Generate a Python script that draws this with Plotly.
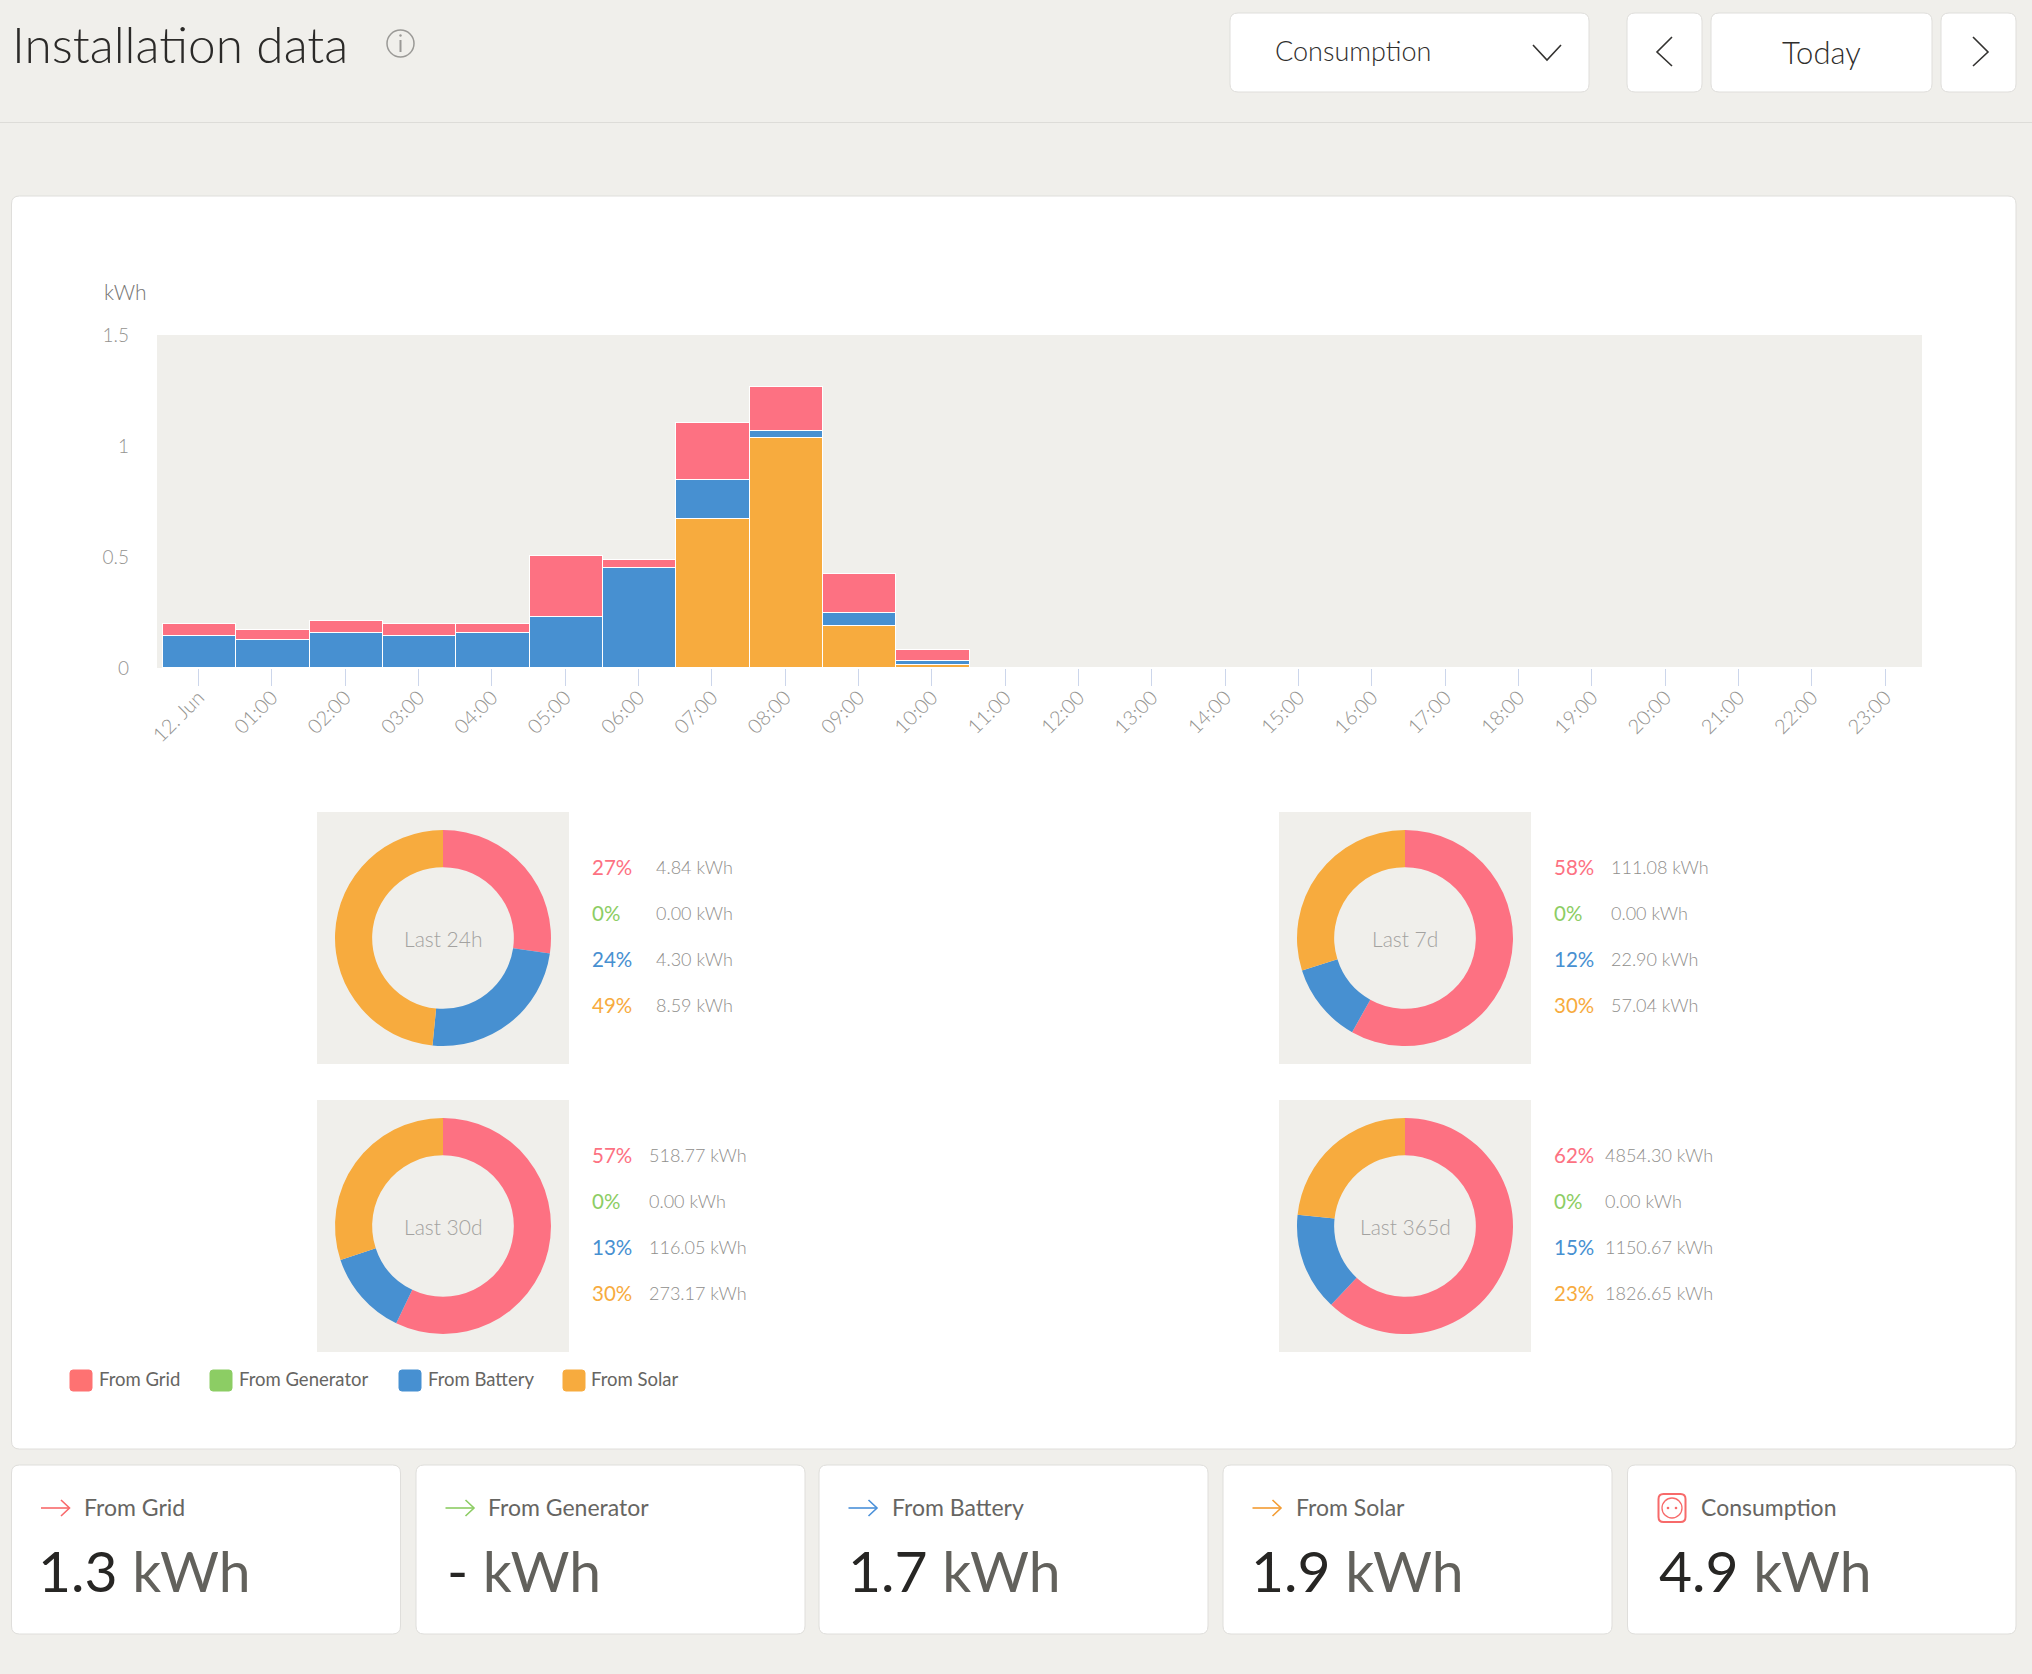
import plotly.graph_objects as go

W, H = 2032, 1674

hours = ["12. Jun"] + [f"{h:02d}:00" for h in range(1, 24)]
from_solar = [0, 0, 0, 0, 0, 0, 0, 0.670, 1.035, 0.191, 0.0135] + [0] * 13
from_battery = [0.143, 0.126, 0.158, 0.143, 0.159, 0.231, 0.452, 0.177, 0.033, 0.057, 0.0165] + [0] * 13
from_generator = [0] * 24
from_grid = [0.054, 0.045, 0.054, 0.054, 0.038, 0.272, 0.036, 0.257, 0.198, 0.174, 0.051] + [0] * 13

source_names = ["From Grid", "From Generator", "From Battery", "From Solar"]
period_names = ["Last 24h", "Last 7d", "Last 30d", "Last 365d"]
period_grid = [4.84, 111.08, 518.77, 4854.30]
period_generator = [0.00, 0.00, 0.00, 0.00]
period_battery = [4.30, 22.90, 116.05, 1150.67]
period_solar = [8.59, 57.04, 273.17, 1826.65]
period_percents = [[27, 0, 24, 49], [58, 0, 12, 30], [57, 0, 13, 30], [62, 0, 15, 23]]

card_labels = ["From Grid", "From Generator", "From Battery", "From Solar", "Consumption"]
card_values = ["1.3", "-", "1.7", "1.9", "4.9"]

PINK, GREEN, BLUE, ORANGE = "#fd7182", "#8ccd64", "#4790d1", "#f7ab3e"
SOURCE_COLORS = [PINK, GREEN, BLUE, ORANGE]
PAGE = "#f0efeb"
EDGE = "#dfdedb"
FONT = "Lato"


def fx(x):
    return x / W


def fy(y):
    return 1 - y / H


def rounded(x0, y0, x1, y1, r=8, fill="#ffffff", line=EDGE, width=1):
    X0, X1, Y0, Y1 = fx(x0), fx(x1), fy(y0), fy(y1)
    rx, ry = r / W, r / H
    path = (
        f"M{X0 + rx},{Y0} L{X1 - rx},{Y0} Q{X1},{Y0} {X1},{Y0 - ry} "
        f"L{X1},{Y1 + ry} Q{X1},{Y1} {X1 - rx},{Y1} L{X0 + rx},{Y1} "
        f"Q{X0},{Y1} {X0},{Y1 + ry} L{X0},{Y0 - ry} Q{X0},{Y0} {X0 + rx},{Y0} Z"
    )
    return dict(type="path", xref="paper", yref="paper", path=path, fillcolor=fill,
                line=dict(color=line, width=width), layer="below")


def polyline(points, color, width=2):
    path = "M" + " L".join(f"{fx(x)},{fy(y)}" for x, y in points)
    return dict(type="path", xref="paper", yref="paper", path=path,
                line=dict(color=color, width=width), layer="above")


def circle(cx, cy, r, line=None, fill="rgba(0,0,0,0)", width=2):
    return dict(type="circle", xref="paper", yref="paper",
                x0=fx(cx - r), x1=fx(cx + r), y0=fy(cy - r), y1=fy(cy + r),
                fillcolor=fill, line=dict(color=line or fill, width=width), layer="above")


def flat_rect(x0, y0, x1, y1, fill=PAGE):
    return dict(type="rect", xref="paper", yref="paper", x0=fx(x0), x1=fx(x1),
                y0=fy(y0), y1=fy(y1), fillcolor=fill, line=dict(width=0), layer="below")


def label(x, y, text, size, color, anchor="left", weight=300):
    return dict(xref="paper", yref="paper", x=fx(x), y=fy(y), text=text, showarrow=False,
                xanchor=anchor, yanchor="middle", borderpad=0,
                font=dict(family=FONT, size=size, color=color, weight=weight))


shapes, notes = [], []

# Page header
shapes.append(polyline([(0, 122.5), (W, 122.5)], "#dddcd8", 1))
notes.append(label(11, 43.5, "Installation data", 49.5, "#2b2a28"))
shapes.append(circle(400.5, 43.5, 13.5, line="#9a9996", width=1.5))
shapes.append(polyline([(400.5, 40), (400.5, 52)], "#9a9996", 2))
shapes.append(circle(400.5, 35.5, 1.2, fill="#9a9996", width=0))
for box in [(1230, 13, 1589, 92), (1627, 13, 1702, 92), (1711, 13, 1932, 92), (1941, 13, 2016, 92)]:
    shapes.append(rounded(*box))
notes.append(label(1274, 50.5, "Consumption", 27, "#2f2e2c"))
notes.append(label(1821, 52, "Today", 31, "#2f2e2c", anchor="center"))
shapes.append(polyline([(1533, 45), (1547, 60), (1561, 45)], "#333230", 1.6))
shapes.append(polyline([(1672, 37), (1657, 52), (1672, 66)], "#333230", 1.6))
shapes.append(polyline([(1973, 37), (1988, 52), (1973, 66)], "#333230", 1.6))

# Main chart card and the tinted plot area inside it
shapes.append(rounded(11.5, 196, 2016, 1449))
shapes.append(flat_rect(157, 335, 1922, 668))
notes.append(label(103, 291, "kWh", 21, "#777674"))

# Donut panels with their percentage and energy read-outs
panel_left = [317, 1279, 317, 1279]
panel_top = [812, 812, 1100, 1100]
read_x = [591, 1553, 591, 1553]
amount_x = [655, 1610, 648, 1604]
traces = []
for i, name in enumerate(period_names):
    px0, py0 = panel_left[i], panel_top[i]
    shapes.append(flat_rect(px0, py0, px0 + 252, py0 + 252))
    cx, cy = px0 + 126, py0 + 126
    values = [period_grid[i], period_generator[i], period_battery[i], period_solar[i]]
    traces.append(go.Pie(
        values=values, labels=source_names, sort=False, direction="clockwise", rotation=0,
        hole=0.656, textinfo="none", showlegend=False,
        marker=dict(colors=SOURCE_COLORS, line=dict(width=0)),
        domain=dict(x=[fx(cx - 108), fx(cx + 108)], y=[fy(cy + 108), fy(cy - 108)]),
    ))
    notes.append(label(cx, cy, name, 21, "#a3a2a0", anchor="center"))
    for j in range(4):
        y = py0 + 54.7 + 46 * j
        notes.append(label(read_x[i], y, f"{period_percents[i][j]}%", 20.5, SOURCE_COLORS[j], weight=400))
        notes.append(label(amount_x[i], y, f"{values[j]:.2f} kWh", 18, "#8f8e8b"))

# Legend row
swatch_x = [70, 210, 399, 563]
legend_text_x = [98, 238, 427, 590]
swatch_colors = ["#fe7272", GREEN, BLUE, ORANGE]
for sx, tx, name, col in zip(swatch_x, legend_text_x, source_names, swatch_colors):
    shapes.append(rounded(sx, 1370, sx + 22, 1391, r=3, fill=col, line=col))
    notes.append(label(tx, 1378.5, name, 18.5, "#666562", weight=400))

# Summary cards
card_edges = [(11.5, 400.5), (416, 805), (819, 1208), (1223, 1612), (1627.5, 2016)]
card_label_x = [83, 487, 891, 1295, 1699.5]
card_value_x = [37, 445.5, 846.5, 1249.5, 1658]
arrow_colors = ["#f8696b", "#8ccc63", "#4a90d9", "#f39c33"]
for i, (x0, x1) in enumerate(card_edges):
    shapes.append(rounded(x0, 1465, x1, 1634))
    notes.append(label(card_label_x[i], 1507, card_labels[i], 23, "#666562", weight=400))
    notes.append(label(card_value_x[i], 1569.5,
                       f"<span style='color:#272624'>{card_values[i]}</span> kWh",
                       57, "#62615c", weight=400))
    if i < 4:
        ax = x0 + 29.5
        shapes.append(polyline([(ax, 1508), (ax + 28, 1508)], arrow_colors[i], 1.6))
        shapes.append(polyline([(ax + 20, 1500), (ax + 28.5, 1508), (ax + 20, 1516)], arrow_colors[i], 1.6))
    else:
        shapes.append(rounded(1658.5, 1494, 1685.5, 1522, r=5, fill="rgba(0,0,0,0)", line="#f76a6a", width=2))
        shapes.append(circle(1672, 1508, 10, line="#f76a6a", width=1.3))
        shapes.append(circle(1668, 1508, 1.3, fill="#f76a6a", width=0))
        shapes.append(circle(1676, 1508, 1.3, fill="#f76a6a", width=0))

# Hourly stacked bars, solar at the base; each bar sits a hair right of its tick
for series, name, color in [(from_solar, "From Solar", ORANGE), (from_battery, "From Battery", BLUE),
                            (from_generator, "From Generator", GREEN), (from_grid, "From Grid", PINK)]:
    traces.append(go.Bar(x=hours, y=series, name=name, showlegend=False, width=1, offset=-0.485,
                         marker=dict(color=color, line=dict(color="#ffffff", width=1))))

fig = go.Figure(traces)
fig.update_layout(
    width=W, height=H, autosize=False, margin=dict(l=0, r=0, t=0, b=0, pad=0, autoexpand=False),
    paper_bgcolor=PAGE, plot_bgcolor="rgba(0,0,0,0)", barmode="stack", bargap=0,
    shapes=shapes, annotations=notes, showlegend=False,
    font=dict(family=FONT, weight=300),
    xaxis=dict(domain=[fx(157), fx(1922)], anchor="y", type="category", categoryorder="array",
               categoryarray=hours, range=[-0.566, 23.5], tickmode="array", tickvals=hours, ticktext=hours,
               tickangle=-45, ticks="outside", ticklen=17, tickcolor="#ccd6eb", tickwidth=1,
               showgrid=False, zeroline=False, showline=False, ticklabelstandoff=-8,
               tickfont=dict(family=FONT, size=20, color="#949390", weight=300)),
    yaxis=dict(domain=[fy(668), fy(335)], anchor="x", range=[0, 1.5], tickmode="array",
               tickvals=[0, 0.5, 1, 1.5], ticktext=["0", "0.5", "1", "1.5"],
               showgrid=False, zeroline=False, showline=False, ticks="", ticklabelstandoff=27,
               tickfont=dict(family=FONT, size=19, color="#949390", weight=300)),
)

fig.write_html("out.html", config={"displayModeBar": False})
